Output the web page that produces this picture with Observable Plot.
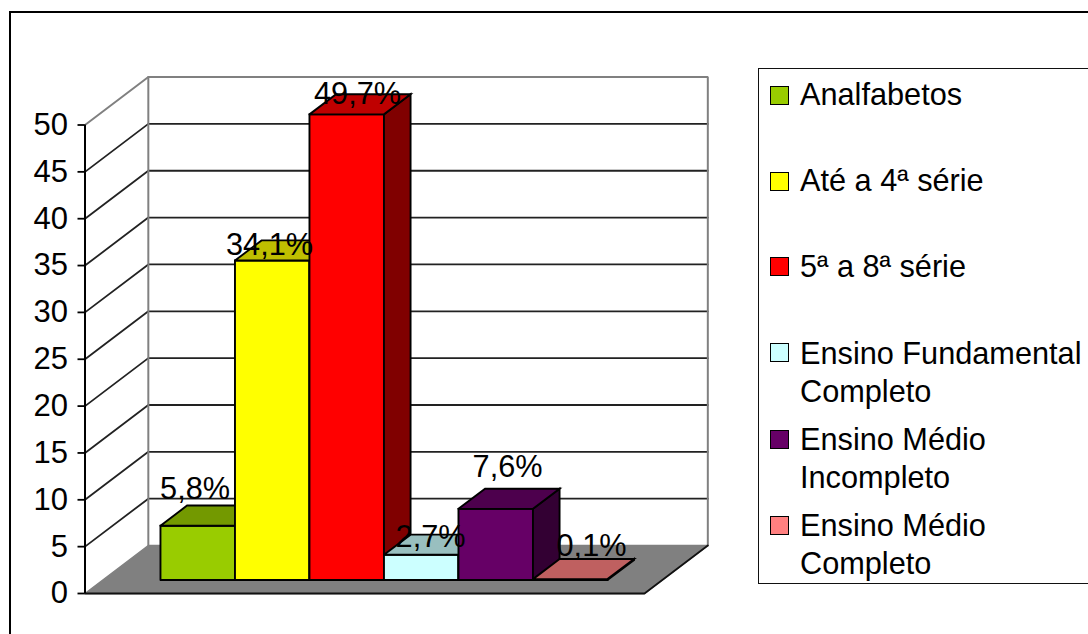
<!DOCTYPE html>
<html>
<head>
<meta charset="utf-8">
<script src="https://cdn.jsdelivr.net/npm/d3@7"></script>
<script src="https://cdn.jsdelivr.net/npm/@observablehq/plot@0.6"></script>
<style>
  html, body { margin: 0; padding: 0; background: #fff; }
  #wrap { position: relative; width: 1088px; height: 634px; overflow: hidden; font-family: "Liberation Sans", Arial, sans-serif; color: #000; }
  #wrap svg { position: absolute; left: 0; top: 0; background: transparent; }
  #frame { position: absolute; left: 9px; top: 11px; width: 1200px; height: 800px; border: 2px solid #000; box-sizing: border-box; }
  #legend { position: absolute; left: 758px; top: 68px; width: 400px; height: 516px; border: 1.5px solid #111; box-sizing: border-box; background: #fff; }
  .sw { position: absolute; left: 10.5px; width: 19px; height: 19px; border: 1.5px solid #000; box-sizing: border-box; }
  .lb { position: absolute; left: 41px; font-size: 30.7px; line-height: 38px; white-space: nowrap; }
</style>
</head>
<body>
<div id="wrap">
  <div id="frame"></div>
  <div id="legend"></div>
</div>
<script>
// ---- data ----
const categories = ["Analfabetos", "Até a 4ª série", "5ª a 8ª série", "Ensino Fundamental Completo", "Ensino Médio Incompleto", "Ensino Médio Completo"];
const values = [5.8, 34.1, 49.7, 2.7, 7.6, 0.1];
const barLabels = ["5,8%", "34,1%", "49,7%", "2,7%", "7,6%", "0,1%"];
const colors = ["#99CC00", "#FFFF00", "#FF0000", "#CCFFFF", "#660066", "#FF8080"];
const yTicks = [0, 5, 10, 15, 20, 25, 30, 35, 40, 45, 50];
const legendLines = [["Analfabetos"], ["Até a 4ª série"], ["5ª a 8ª série"], ["Ensino Fundamental", "Completo"], ["Ensino Médio", "Incompleto"], ["Ensino Médio", "Completo"]];

// ---- 3D layout, in scale units ----
const xMax = 7.51;           // floor width, in bar widths
const depthX = 0.85;         // x shift of the whole depth, in bar widths
const depthY = 5.12;         // y shift of the whole depth, in axis units
const barGap = 0.775;        // space before the first bar, in bar widths
const barZ0 = 0.28, barZ1 = 0.70;
const labelNudgeX = [-0.036, -0.036, 0.145, 0.125, 0.159, 0.286];
const labelLift = [4.29, 2.03, 2.56, 2.26, 4.83, 3.9];

const pt = (x, v, z) => ({x: x + z * depthX, y: v + z * depthY});
const poly = (id, fill, pts) => [...pts, pts[0]].map(p => ({id, fill, ...p}));

const shade = (c, k) => { const r = d3.rgb(c); return d3.rgb(r.r * k, r.g * k, r.b * k).formatHex(); };

const faces = values.flatMap((v, i) => {
  const x0 = barGap + i, x1 = x0 + 1, c = colors[i];
  return [
    ...poly(`f${i}`, c, [pt(x0, 0, barZ0), pt(x1, 0, barZ0), pt(x1, v, barZ0), pt(x0, v, barZ0)]),
    ...poly(`s${i}`, shade(c, 0.5), [pt(x1, 0, barZ0), pt(x1, 0, barZ1), pt(x1, v, barZ1), pt(x1, v, barZ0)]),
    ...poly(`t${i}`, shade(c, 0.75), [pt(x0, v, barZ0), pt(x1, v, barZ0), pt(x1, v, barZ1), pt(x0, v, barZ1)])
  ];
});

const floor = poly("floor", "#808080", [pt(0, 0, 0), pt(xMax, 0, 0), pt(xMax, 0, 1), pt(0, 0, 1)]);
const wallEdges = [pt(0, 50, 0), pt(0, 50, 1), pt(xMax, 50, 1), pt(xMax, 0, 1)];
const wallLeft = [pt(0, 50, 1), pt(0, 0, 1)];
const floorEdge = [pt(0, 0, 0), pt(xMax, 0, 0), pt(xMax, 0, 1)];
const gridRows = yTicks.filter(t => t > 0 && t < 50).flatMap(t => [
  {level: t, ...pt(0, t, 0)}, {level: t, ...pt(0, t, 1)}, {level: t, ...pt(xMax, t, 1)}
]);
const labelRows = values.map((v, i) => ({
  label: barLabels[i],
  x: barGap + i + 0.5 + barZ0 * depthX + labelNudgeX[i],
  y: v + labelLift[i]
}));

const chart = Plot.plot({
  width: 1088, height: 634,
  marginLeft: 84.5, marginRight: 1088 - (84.5 + xMax * 74.5), marginTop: 124.5, marginBottom: 41,
  style: {fontFamily: '"Liberation Sans", Arial, sans-serif', background: "transparent", color: "#000", overflow: "visible"},
  x: {domain: [0, xMax], axis: null},
  y: {domain: [0, 50]},
  marks: [
    Plot.line(floor, {x: "x", y: "y", z: "id", fill: "#808080", stroke: "#808080", strokeWidth: 1.5}),
    Plot.line(gridRows, {x: "x", y: "y", z: "level", stroke: "#222", strokeWidth: 1.8}),
    Plot.line(wallEdges, {x: "x", y: "y", stroke: "#808080", strokeWidth: 2, strokeLinejoin: "miter"}),
    Plot.line(wallLeft, {x: "x", y: "y", stroke: "#808080", strokeWidth: 2}),
    Plot.line(floorEdge, {x: "x", y: "y", stroke: "#111", strokeWidth: 1.8, strokeLinejoin: "miter"}),
    Plot.ruleX([0], {y1: 0, y2: 50, stroke: "#000", strokeWidth: 2}),
    Plot.axisY({ticks: yTicks, tickSize: 7, tickPadding: 10, fontSize: 31, label: null, stroke: "#000", strokeWidth: 1.8, tickFormat: d => String(d), fill: "#000"}),
    Plot.line(faces, {x: "x", y: "y", z: "id", fill: {value: "fill", scale: null}, stroke: "#000", strokeWidth: 1.9, strokeLinejoin: "miter", strokeMiterlimit: 4}),
    Plot.text(labelRows, {x: "x", y: "y", text: "label", fontSize: 30.7, fill: "#000", lineAnchor: "bottom", textAnchor: "middle"})
  ]
});
document.getElementById("wrap").insertBefore(chart, document.getElementById("legend"));

// ---- legend ----
const legend = document.getElementById("legend");
const swatchTop = [18, 104, 189.5, 275.5, 362.5, 448.5];
const textTop = [6.5, 92.5, 179, 265.5, 351.5, 437.5];
legendLines.forEach((lines, i) => {
  const sw = document.createElement("div");
  sw.className = "sw";
  sw.style.top = swatchTop[i] - 1.5 + "px";
  sw.style.background = colors[i];
  legend.appendChild(sw);
  const lb = document.createElement("div");
  lb.className = "lb";
  lb.style.top = textTop[i] + "px";
  lb.innerHTML = lines.join("<br>");
  legend.appendChild(lb);
});
</script>
</body>
</html>
